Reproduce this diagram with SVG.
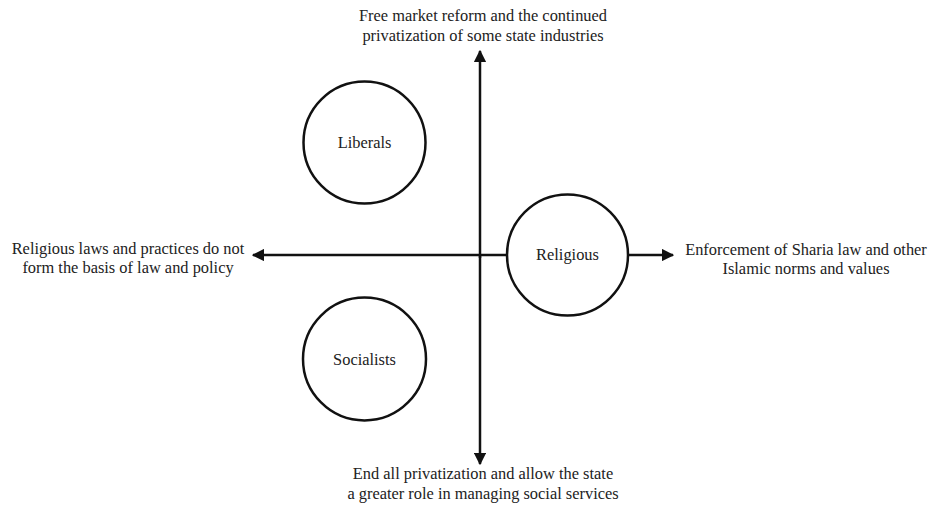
<svg xmlns="http://www.w3.org/2000/svg" width="928" height="511" viewBox="0 0 928 511">
<style>
text{font-family:"Liberation Serif","Times New Roman",serif;font-size:16.4px;fill:#222;text-anchor:middle}
.axis{stroke:#111;stroke-width:2.5;fill:none}
.node circle{fill:#fff;stroke:#111;stroke-width:2.5}
</style>
<defs>
<marker id="ah" viewBox="0 0 10 10" refX="9" refY="5" markerWidth="5" markerHeight="5" orient="auto" markerUnits="strokeWidth">
<path d="M0,0 L10,5 L0,10 z" fill="#111"/>
</marker>
</defs>
<rect width="928" height="511" fill="#fff"/>
<g id="connectors">
<line class="axis" x1="480" y1="258" x2="480" y2="51" marker-end="url(#ah)"/>
<line class="axis" x1="480" y1="255" x2="480" y2="464" marker-end="url(#ah)"/>
<line class="axis" x1="507" y1="255" x2="253" y2="255" marker-end="url(#ah)"/>
<line class="axis" x1="628" y1="255" x2="673" y2="255" marker-end="url(#ah)"/>
</g>
<g id="label-top">
<text x="483" y="21">Free market reform and the continued</text>
<text x="483" y="41">privatization of some state industries</text>
</g>
<g id="label-left">
<text x="128" y="254">Religious laws and practices do not</text>
<text x="128" y="273">form the basis of law and policy</text>
</g>
<g id="label-right">
<text x="806" y="255">Enforcement of Sharia law and other</text>
<text x="806" y="274">Islamic norms and values</text>
</g>
<g id="label-bottom">
<text x="483" y="479">End all privatization and allow the state</text>
<text x="483" y="499">a greater role in managing social services</text>
</g>
<g id="liberals" class="node">
<circle cx="364.5" cy="142.5" r="61"/>
<text x="364.5" y="148">Liberals</text>
</g>
<g id="religious" class="node">
<circle cx="567.5" cy="255" r="60.5"/>
<text x="567.5" y="260">Religious</text>
</g>
<g id="socialists" class="node">
<circle cx="364.5" cy="359" r="61.5"/>
<text x="364.5" y="365">Socialists</text>
</g>
</svg>
